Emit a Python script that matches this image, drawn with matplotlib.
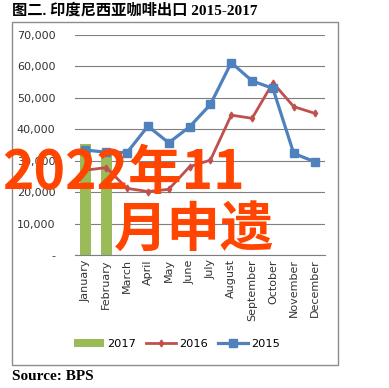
import numpy as np
import matplotlib.pyplot as plt
from matplotlib.patches import Rectangle
from matplotlib.ticker import FuncFormatter

months = ["January", "February", "March", "April", "May", "June", "July",
          "August", "September", "October", "November", "December"]

exports_2015 = [33400, 32700, 32600, 41000, 35700, 40800, 47900,
                61200, 55400, 53000, 32300, 29700]
exports_2016 = [27000, 27800, 21200, 20200, 20900, 28100, 30200,
                44500, 43500, 54800, 47200, 45100]
exports_2017 = [35200, 32800]

GREEN = "#9bbb59"
RED = "#c0504d"
BLUE = "#4f81bd"

fig = plt.figure(figsize=(3.89, 3.88), dpi=100, facecolor="white")

# outer chart frame
fig.patches.append(Rectangle((12 / 389, 1 - 365 / 388), 326 / 389, 343 / 388,
                             transform=fig.transFigure, fill=False,
                             edgecolor="#8c8c8c", linewidth=1.0))

ax = fig.add_axes([75 / 389, 1 - 255 / 388, 250 / 389, 220 / 388])
x = np.arange(len(months))

b17 = ax.bar(x[:len(exports_2017)], exports_2017, width=0.53, color=GREEN,
             label="2017", zorder=2)
l16, = ax.plot(x, exports_2016, color=RED, linewidth=2, marker="d",
               markersize=3.5, label="2016", zorder=3)
l15, = ax.plot(x, exports_2015, color=BLUE, linewidth=2.3, marker="s",
               markersize=5.5, label="2015", zorder=4)

ax.set_xlim(-0.5, 11.5)
ax.set_ylim(0, 70000)
ax.set_yticks(np.arange(0, 70001, 10000))
ax.yaxis.set_major_formatter(FuncFormatter(lambda v, p: "-" if v == 0 else f"{int(v):,}"))
ax.grid(axis="y", color="#7f7f7f", linewidth=0.8, zorder=0)
ax.set_axisbelow(True)
for s in ["top", "right", "left"]:
    ax.spines[s].set_visible(False)
ax.spines["bottom"].set_color("#7f7f7f")
ax.set_xticks(x)
ax.set_xticklabels(months, rotation=90, fontsize=8, color="#333333")
ax.tick_params(axis="y", length=0, pad=14, labelsize=8, labelcolor="#333333")
ax.tick_params(axis="x", length=0, pad=3)

fig.legend([b17, l16, l15], ["2017", "2016", "2015"], loc="center",
           bbox_to_anchor=(0.455, 1 - 344 / 388), ncol=3,
           frameon=False, fontsize=8.2, handlelength=2.6,
           columnspacing=0.9, handletextpad=0.3)

fig.text(12 / 389, 1 - 10 / 388, "图二. 印度尼西亚咖啡出口 2015-2017",
         fontsize=11, fontweight="bold", va="center", ha="left",
         family=["Liberation Serif", "Noto Sans CJK SC"])
fig.text(12 / 389, 1 - 377 / 388, "Source: BPS", fontsize=11,
         fontweight="bold", va="center", ha="left", family="Liberation Serif")

# watermark overlay
fig.text(2 / 389, 1 - 173 / 388, "2022年11", fontsize=38.5, fontweight="bold",
         color="#ff4500", va="center", ha="left", family="Noto Sans CJK SC")
fig.text(114 / 389, 1 - 230 / 388, "月申遗", fontsize=38.5, fontweight="bold",
         color="#ff4500", va="center", ha="left", family="Noto Sans CJK SC")

fig.savefig("out.png", dpi=100, facecolor="white")
